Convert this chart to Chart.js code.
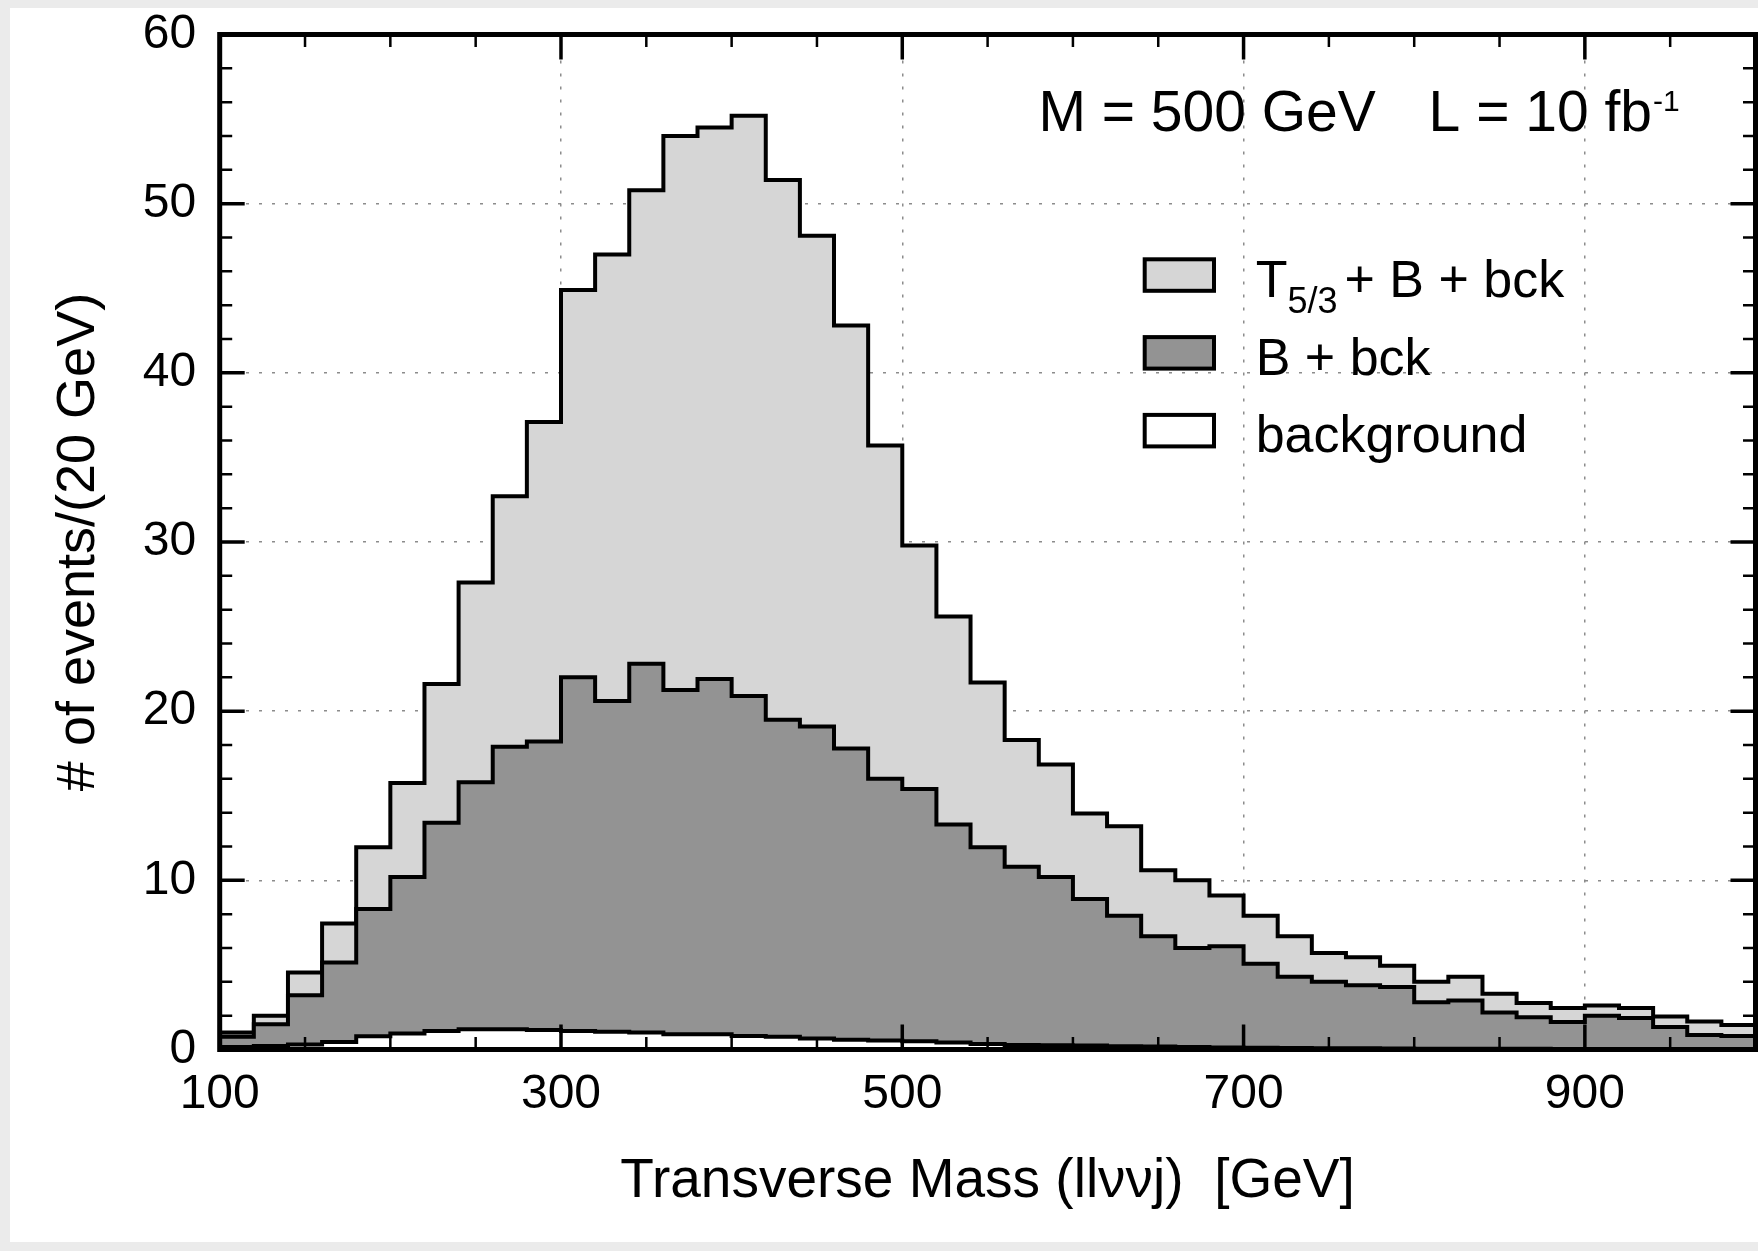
<!DOCTYPE html>
<html>
<head>
<meta charset="utf-8">
<script src="https://cdn.jsdelivr.net/npm/chart.js@4.4.1/dist/chart.umd.min.js"></script>
<style>
  html, body { margin: 0; padding: 0; background: #ebebeb; }
  #panel { position: absolute; left: 10px; top: 8px; width: 1748px; height: 1234px; background: #ffffff; }
  canvas { display: block; }
</style>
</head>
<body>
<div id="panel"><canvas id="histo" width="1748" height="1234"></canvas></div>
<script>
// bins: left edges (GeV), 20 GeV wide
const binLeft = [100, 120, 140, 160, 180, 200, 220, 240, 260, 280,
                 300, 320, 340, 360, 380, 400, 420, 440, 460, 480,
                 500, 520, 540, 560, 580, 600, 620, 640, 660, 680,
                 700, 720, 740, 760, 780, 800, 820, 840, 860, 880,
                 900, 920, 940, 960, 980];
const binRightEdge = 1000;

// T5/3 + B + bck
const totalCounts = [1.0, 2.0, 4.55, 7.45, 11.95, 15.75, 21.6, 27.6, 32.7, 37.1,
                     44.9, 47.0, 50.8, 54.0, 54.5, 55.2, 51.4, 48.1, 42.8, 35.7,
                     29.8, 25.6, 21.7, 18.3, 16.85, 13.95, 13.2, 10.6, 10.0, 9.1,
                     7.9, 6.7, 5.7, 5.45, 4.95, 4.0, 4.3, 3.3, 2.75, 2.45,
                     2.6, 2.45, 1.95, 1.65, 1.45];
// B + bck
const bPlusBck = [0.75, 1.5, 3.2, 5.15, 8.3, 10.2, 13.4, 15.8, 17.9, 18.2,
                  22.0, 20.6, 22.8, 21.25, 21.9, 20.9, 19.5, 19.1, 17.8, 16.0,
                  15.4, 13.3, 11.95, 10.8, 10.2, 8.9, 7.9, 6.7, 6.0, 6.1,
                  5.07, 4.3, 4.0, 3.8, 3.7, 2.8, 2.9, 2.18, 1.9, 1.63,
                  2.0, 1.86, 1.33, 0.85, 0.8];
// background only
const bckOnly = [0.15, 0.2, 0.3, 0.45, 0.78, 0.95, 1.1, 1.2, 1.2, 1.15,
                 1.1, 1.05, 1.0, 0.9, 0.9, 0.8, 0.75, 0.65, 0.58, 0.53,
                 0.49, 0.42, 0.33, 0.27, 0.25, 0.23, 0.19, 0.17, 0.15, 0.12,
                 0.1, 0.09, 0.08, 0.07, 0.06, 0.05, 0.05, 0.04, 0.04, 0.03,
                 0.03, 0.03, 0.02, 0.02, 0.02];

const xTickLabels = [100, 300, 500, 700, 900];
const yTickLabels = [0, 10, 20, 30, 40, 50, 60];
const seriesLabels = ['T5/3 + B + bck', 'B + bck', 'background'];
const fillColors = ['#d6d6d6', '#939393', '#ffffff'];

const FONT = '"Liberation Sans", Arial, Helvetica, sans-serif';
Chart.defaults.font.family = FONT;
Chart.defaults.color = '#000';

// step points: one per left edge, plus the closing right edge
function steps(vals) {
    const pts = binLeft.map((x, i) => ({ x: x, y: vals[i] }));
    pts.push({ x: binRightEdge, y: vals[vals.length - 1] });
    return pts;
}

function histSet(i, vals, order) {
    return {
        label: seriesLabels[i],
        data: steps(vals),
        stepped: 'before',
        fill: 'origin',
        backgroundColor: fillColors[i],
        borderColor: '#000',
        borderWidth: 4,
        borderJoinStyle: 'miter',
        pointRadius: 0,
        order: order
    };
}

const framePlugin = {
    id: 'frame',
    afterDraw(chart) {
        const ctx = chart.ctx;
        const ca = chart.chartArea;
        const xs = chart.scales.x, ys = chart.scales.y;
        ctx.save();
        ctx.strokeStyle = '#000';

        // inside tick marks, all four sides
        const xMinor = [], yMinor = [];
        for (let v = 150; v < 1000; v += 50) if (!xTickLabels.includes(v)) xMinor.push(v);
        for (let v = 2; v < 60; v += 2) if (!yTickLabels.includes(v)) yMinor.push(v);
        function xt(vals, len, w) {
            ctx.lineWidth = w;
            vals.forEach(v => {
                const p = xs.getPixelForValue(v);
                ctx.beginPath();
                ctx.moveTo(p, ca.bottom); ctx.lineTo(p, ca.bottom - len);
                ctx.moveTo(p, ca.top); ctx.lineTo(p, ca.top + len);
                ctx.stroke();
            });
        }
        function yt(vals, len, w) {
            ctx.lineWidth = w;
            vals.forEach(v => {
                const p = ys.getPixelForValue(v);
                ctx.beginPath();
                ctx.moveTo(ca.left, p); ctx.lineTo(ca.left + len, p);
                ctx.moveTo(ca.right, p); ctx.lineTo(ca.right - len, p);
                ctx.stroke();
            });
        }
        xt(xMinor, 12.5, 2.5);
        xt(xTickLabels, 25, 3.5);
        yt(yMinor, 12.5, 2.5);
        yt(yTickLabels, 25, 3.5);

        ctx.lineWidth = 5;
        ctx.strokeRect(ca.left, ca.top, ca.right - ca.left, ca.bottom - ca.top);

        // M / L annotation
        ctx.fillStyle = '#000';
        ctx.textBaseline = 'alphabetic';
        ctx.textAlign = 'left';
        const ay = ca.top + 96.2;
        ctx.font = '57px ' + FONT;
        ctx.fillText('M = 500 GeV', ca.left + 818.7, ay);
        const lx = ca.left + 1208.9;
        ctx.fillText('L = 10 fb', lx, ay);
        const lw = ctx.measureText('L = 10 fb').width;
        ctx.font = '30px ' + FONT;
        ctx.fillText('-1', lx + lw + 1, ay - 20);

        // legend
        const gx = ca.right - 612.8, gy = ca.top + 222.8, step = 77.8;
        chart.data.datasets.forEach((ds, i) => {
            const by = gy + i * step;
            ctx.fillStyle = ds.backgroundColor;
            ctx.fillRect(gx + 2, by + 2, 69.3, 31.5);
            ctx.lineWidth = 4;
            ctx.strokeRect(gx + 2, by + 2, 69.3, 31.5);
            ctx.fillStyle = '#000';
            const tx = gx + 113, ty = by + 39.4;
            ctx.font = '52px ' + FONT;
            if (i === 0) {
                ctx.fillText('T', tx, ty);
                const tW = ctx.measureText('T').width;
                ctx.font = '36px ' + FONT;
                ctx.fillText('5/3', tx + tW, ty + 16.6);
                const sW = ctx.measureText('5/3').width;
                ctx.font = '52px ' + FONT;
                ctx.fillText('+ B + bck', tx + tW + sW + 7, ty);
            } else {
                ctx.fillText(ds.label, tx, ty);
            }
        });
        ctx.restore();
    }
};

const gridStyle = { drawTicks: false, color: '#8c8c8c', lineWidth: 1.5 };

new Chart(document.getElementById('histo'), {
    type: 'line',
    data: {
        datasets: [
            histSet(0, totalCounts, 3),
            histSet(1, bPlusBck, 2),
            histSet(2, bckOnly, 1)
        ]
    },
    options: {
        responsive: false,
        devicePixelRatio: 1,
        animation: false,
        layout: { padding: { top: 26.5, right: 2.5, left: 0, bottom: 0 } },
        plugins: { legend: { display: false }, tooltip: { enabled: false } },
        scales: {
            x: {
                type: 'linear', min: 100, max: binRightEdge, z: 1,
                afterBuildTicks: s => { s.ticks = xTickLabels.map(v => ({ value: v })); },
                afterFit: s => { s.height = 192.5; s.paddingLeft = 0; s.paddingRight = 0; },
                grid: gridStyle,
                border: { display: false, dash: [3, 10] },
                ticks: { padding: 21, autoSkip: false, maxRotation: 0, font: { size: 48, lineHeight: 1 } },
                title: {
                    display: true, text: 'Transverse Mass (llννj)  [GeV]',
                    font: { size: 55, lineHeight: 1.2 }, padding: { top: 0, bottom: 27 }
                }
            },
            y: {
                type: 'linear', min: 0, max: 60, z: 1,
                afterBuildTicks: s => { s.ticks = yTickLabels.map(v => ({ value: v })); },
                afterFit: s => { s.width = 209.7; s.paddingTop = 0; s.paddingBottom = 0; },
                grid: gridStyle,
                border: { display: false, dash: [3, 10] },
                ticks: { padding: 23.6, font: { size: 48, lineHeight: 1 } },
                title: {
                    display: true, text: '# of events/(20 GeV)',
                    font: { size: 54, lineHeight: 1.2 }, padding: { top: 36.3, bottom: 0 }
                }
            }
        }
    },
    plugins: [framePlugin]
});
</script>
</body>
</html>
